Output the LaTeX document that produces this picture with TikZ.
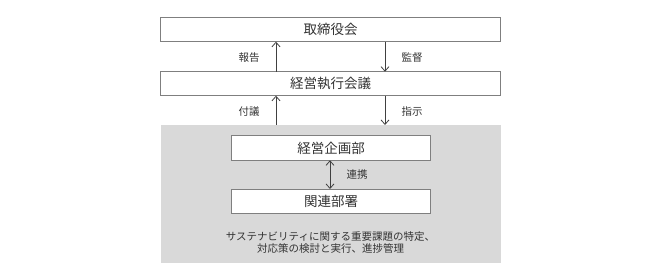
\documentclass[tikz,border=0pt]{standalone}
\usepackage{fontspec}
\setmainfont{Noto Sans CJK JP}
\usetikzlibrary{arrows.meta}
\definecolor{boxline}{HTML}{7F7F7F}
\definecolor{panel}{HTML}{D9D9D9}
\definecolor{ink}{HTML}{333333}
\definecolor{arr}{HTML}{404040}
\tikzset{
  box/.style={draw=boxline, line width=0.9pt, fill=white},
  title/.style={font=\fontsize{13.5}{15}\selectfont, text=ink},
  lab/.style={font=\fontsize{10.5}{12}\selectfont, text=ink},
  conn/.style={draw=arr, line width=0.8pt, -{Straight Barb[length=4.5pt,width=8pt]}},
}
\begin{document}
\begin{tikzpicture}[x=1pt,y=-1pt]
\useasboundingbox (0,0) rectangle (645,280);
\fill[panel] (160.5,125) rectangle (501,263.3);
\draw[box] (160.5,17.3) rectangle (500.7,41.7);
\draw[box] (160.5,71.7) rectangle (500.7,95.7);
\draw[box] (231.3,135.7) rectangle (430.7,160.3);
\draw[box] (231.3,189) rectangle (430.7,213.3);
\node[title] (board) at (330.6,29.5) {取締役会};
\node[title] (exec) at (330.6,83.7) {経営執行会議};
\node[title] (plan) at (331,148) {経営企画部};
\node[title] (rel) at (331,201.2) {関連部署};
\coordinate (b1) at (276,41.7);
\coordinate (e1) at (276,71.7);
\coordinate (b2) at (385,41.7);
\coordinate (e2) at (385,71.7);
\coordinate (e3) at (276,95.7);
\coordinate (g3) at (276,125);
\coordinate (e4) at (385,95.7);
\coordinate (g4) at (385,125);
\coordinate (p1) at (330,160.3);
\coordinate (r1) at (330,189);
\draw[conn] (e1) -- (b1);
\draw[conn] (b2) -- (e2);
\draw[conn] (g3) -- (e3);
\draw[conn] (e4) -- (g4);
\draw[conn, {Straight Barb[length=4.5pt,width=8pt]}-{Straight Barb[length=4.5pt,width=8pt]}] (p1) -- (r1);
\node[lab] (l1) at (249,58) {報告};
\node[lab] (l2) at (412,58) {監督};
\node[lab] (l3) at (249,112) {付議};
\node[lab] (l4) at (412,112) {指示};
\node[lab] (l5) at (357,174.5) {連携};
\node[lab, align=center, font=\fontsize{10.5}{11.5}\selectfont] (desc) at (330.5,242.5) {サステナビリティに関する重要課題の特定、\\対応策の検討と実行、進捗管理};
\end{tikzpicture}
\end{document}
